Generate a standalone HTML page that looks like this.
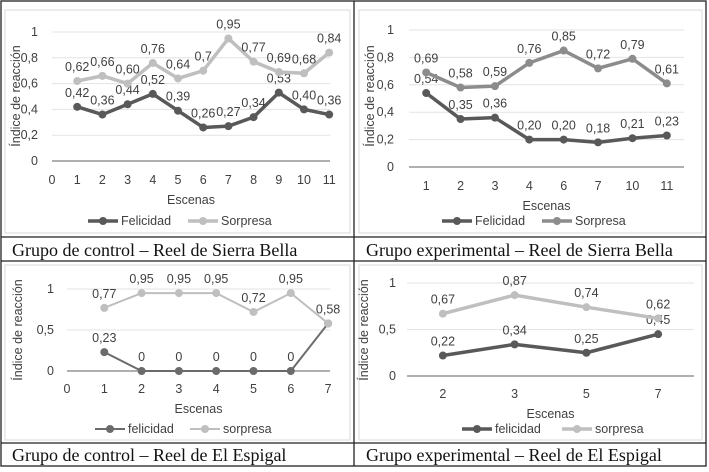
<!DOCTYPE html>
<html><head><meta charset="utf-8"><style>
body{margin:0;background:#fff;}
svg{display:block;font-family:"Liberation Sans",sans-serif;}
.cap{font-family:"Liberation Serif",serif;font-size:18px;fill:#111;}
.tk{font-size:12.5px;fill:#404040;}
.dl{font-size:12.5px;fill:#404040;}
</style></head><body>
<svg id="s" width="709" height="472" viewBox="0 0 709 472">
<g stroke="#222" fill="none" stroke-width="1.3">
<rect x="1" y="1" width="705" height="465"/>
<line x1="354" y1="1" x2="354" y2="466"/>
<line x1="1" y1="237" x2="706" y2="237"/>
<line x1="1" y1="261" x2="706" y2="261"/>
<line x1="1" y1="443" x2="706" y2="443"/>
</g>
<g fill="none" stroke="#d9d9d9">
<rect x="5" y="10" width="345" height="223"/>
<rect x="359" y="10" width="343" height="223"/>
<rect x="5" y="265" width="345" height="175"/>
<rect x="359" y="265" width="343" height="175"/>
</g>
<text class="cap" x="12" y="256">Grupo de control – Reel de Sierra Bella</text>
<text class="cap" x="366" y="256">Grupo experimental – Reel de Sierra Bella</text>
<text class="cap" x="12" y="461">Grupo de control – Reel de El Espigal</text>
<text class="cap" x="366" y="461">Grupo experimental – Reel de El Espigal</text>
</svg>
<script>
// Chart 1: control Sierra Bella
const c1Cats=[1,2,3,4,5,6,7,8,9,10,11];
const c1Fel=[0.42,0.36,0.44,0.52,0.39,0.26,0.27,0.34,0.53,0.40,0.36];
const c1Sor=[0.62,0.66,0.60,0.76,0.64,0.70,0.95,0.77,0.69,0.68,0.84];
const c1FelLbl=["0,42","0,36","0,44","0,52","0,39","0,26","0,27","0,34","0,53","0,40","0,36"];
const c1SorLbl=["0,62","0,66","0,60","0,76","0,64","0,7","0,95","0,77","0,69","0,68","0,84"];
const c1XTicks=[0,1,2,3,4,5,6,7,8,9,10,11];
const c1YTicks=[0,0.2,0.4,0.6,0.8,1];
const c1YLbl=["0","0,2","0,4","0,6","0,8","1"];
// Chart 2: experimental Sierra Bella
const c2Cats=["1","2","3","4","6","7","10","11"];
const c2Fel=[0.54,0.35,0.36,0.20,0.20,0.18,0.21,0.23];
const c2Sor=[0.69,0.58,0.59,0.76,0.85,0.72,0.79,0.61];
const c2FelLbl=["0,54","0,35","0,36","0,20","0,20","0,18","0,21","0,23"];
const c2SorLbl=["0,69","0,58","0,59","0,76","0,85","0,72","0,79","0,61"];
const c2YTicks=[0,0.2,0.4,0.6,0.8,1];
const c2YLbl=["0","0,2","0,4","0,6","0,8","1"];
// Chart 3: control Espigal
const c3Cats=[1,2,3,4,5,6,7];
const c3Fel=[0.23,0,0,0,0,0,0.58];
const c3Sor=[0.77,0.95,0.95,0.95,0.72,0.95,0.58];
const c3FelLbl=["0,23","0","0","0","0","0",""];
const c3SorLbl=["0,77","0,95","0,95","0,95","0,72","0,95","0,58"];
const c3XTicks=[0,1,2,3,4,5,6,7];
const c3YTicks=[0,0.5,1];
const c3YLbl=["0","0,5","1"];
// Chart 4: experimental Espigal
const c4Cats=["2","3","5","7"];
const c4Fel=[0.22,0.34,0.25,0.45];
const c4Sor=[0.67,0.87,0.74,0.62];
const c4FelLbl=["0,22","0,34","0,25","0,45"];
const c4SorLbl=["0,67","0,87","0,74","0,62"];
const c4YTicks=[0,0.5,1];
const c4YLbl=["0","0,5","1"];

const S=document.getElementById('s');
const NS='http://www.w3.org/2000/svg';
function mk(t,a,txt){const e=document.createElementNS(NS,t);for(const k in a)e.setAttribute(k,a[k]);if(txt!==undefined)e.textContent=txt;S.appendChild(e);return e;}

function chart(o){
  const y=v=>o.y0+(o.y1-o.y0)*v;
  o.yTicks.forEach((t,i)=>{
    const g=mk('line',{x1:o.gx0,x2:o.gx1,y1:y(t),y2:y(t),stroke:t===0?'#7f7f7f':'#e3e3e3','stroke-width':t===0?1.3:1});
    
    
    const l=mk('text',{x:o.ylx,y:y(t)+4,'text-anchor':'end',class:'tk'},o.yLbl[i]);
    
    
  });
  o.xTicks.forEach((t,i)=>{
    const l=mk('text',{x:o.x(t,i),y:o.xly,'text-anchor':'middle',class:'tk'},String(t));
    
    
  });
  const at=mk('text',{x:(o.gx0+o.gx1)/2,y:o.xly+20,'text-anchor':'middle',class:'tk'},'Escenas');
  
  
  const yt=mk('text',{transform:`translate(${o.ytx},${o.ytc}) rotate(-90)`,'text-anchor':'middle',class:'tk'},'Índice de reacción');
  
  
  o.series.forEach(s=>{
    const pts=s.v.map((v,i)=>[o.x(o.cats[i],i),y(v)]);
    const p=mk('polyline',{points:pts.map(p=>p.join(',')).join(' '),fill:'none',stroke:s.c,'stroke-width':s.w,'stroke-linejoin':'round'});
    
    
    pts.forEach((q,i)=>{
      const c=mk('circle',{cx:q[0],cy:q[1],r:s.r,fill:s.c});
      
      
      if(s.l[i]){
        const t=mk('text',{x:q[0],y:q[1]-10,'text-anchor':'middle',class:'dl'},s.l[i]);
        
        
      }
    });
  });
  let lx=o.legx;
  o.series.forEach(s=>{
    const l=mk('line',{x1:lx,x2:lx+30,y1:o.legy,y2:o.legy,stroke:s.c,'stroke-width':s.w});
    
    
    const c=mk('circle',{cx:lx+15,cy:o.legy,r:s.r,fill:s.c});
    
    
    const t=mk('text',{x:lx+33,y:o.legy+4,class:'tk'},s.name);
    
    
    lx+=o.legs;
  });
}
const DK='#595959',LT='#bfbfbf';
chart({id:'c1',y0:161,y1:32,gx0:52,gx1:330,ylx:38,xly:184,ytx:20,ytc:96,legx:88,legy:221,legs:100,
  x:v=>52+v*25.2,cats:c1Cats,xTicks:c1XTicks,yTicks:c1YTicks,yLbl:c1YLbl,
  series:[{n:'felicidad',name:'Felicidad',v:c1Fel,l:c1FelLbl,c:DK,w:3.5,r:4},{n:'sorpresa',name:'Sorpresa',v:c1Sor,l:c1SorLbl,c:LT,w:3.5,r:4}]});
chart({id:'c2',y0:167,y1:30,gx0:409,gx1:684,ylx:394,xly:190,ytx:374,ytc:96,legx:442,legy:221,legs:100,
  x:(v,i)=>409+(i+0.5)*275/8,cats:c2Cats,xTicks:c2Cats,yTicks:c2YTicks,yLbl:c2YLbl,
  series:[{n:'felicidad',name:'Felicidad',v:c2Fel,l:c2FelLbl,c:DK,w:3.5,r:4},{n:'sorpresa',name:'Sorpresa',v:c2Sor,l:c2SorLbl,c:'#8c8c8c',w:3.5,r:4}]});
chart({id:'c3',y0:371,y1:289,gx0:67,gx1:330,ylx:54,xly:393,ytx:22,ytc:330,legx:95,legy:429,legs:95,
  x:v=>67+v*37.3,cats:c3Cats,xTicks:c3XTicks,yTicks:c3YTicks,yLbl:c3YLbl,
  series:[{n:'felicidad',name:'felicidad',v:c3Fel,l:c3FelLbl,c:'#6b6b6b',w:2,r:4},{n:'sorpresa',name:'sorpresa',v:c3Sor,l:c3SorLbl,c:LT,w:2,r:4}]});
chart({id:'c4',y0:376,y1:283,gx0:407,gx1:694,ylx:396,xly:398,ytx:368,ytc:330,legx:462,legy:429,legs:100,
  x:(v,i)=>407+(i+0.5)*287/4,cats:c4Cats,xTicks:c4Cats,yTicks:c4YTicks,yLbl:c4YLbl,
  series:[{n:'felicidad',name:'felicidad',v:c4Fel,l:c4FelLbl,c:DK,w:3.5,r:4},{n:'sorpresa',name:'sorpresa',v:c4Sor,l:c4SorLbl,c:LT,w:3.5,r:4}]});
</script>
</body></html>
